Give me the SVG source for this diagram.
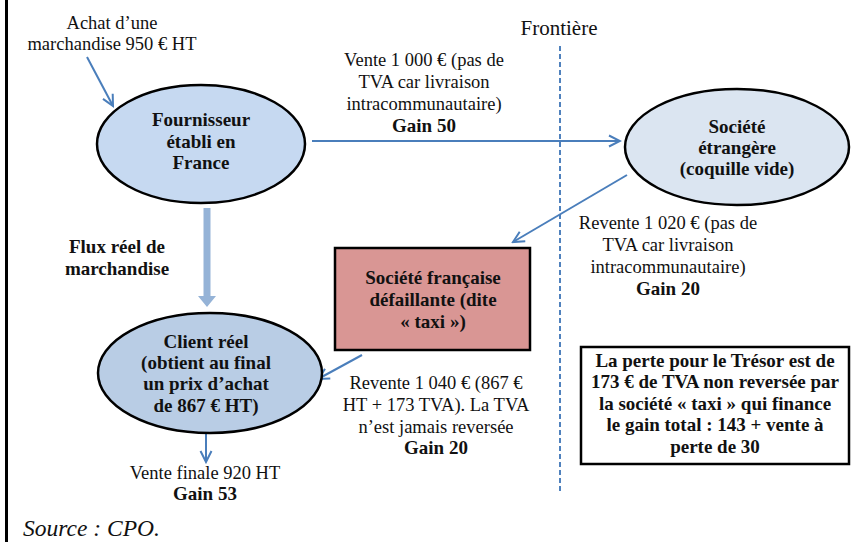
<svg xmlns="http://www.w3.org/2000/svg" width="856" height="542" viewBox="0 0 856 542">
<defs>
<style>
text{font-family:"Liberation Serif","Times New Roman",serif;fill:#111;text-anchor:middle}
.n{font-size:18.5px}
.b{font-size:19px;font-weight:bold}
.node{stroke:#000;stroke-width:2.5}
.conn{stroke:#4a7ebb;stroke-width:2;fill:none}
</style>
<marker id="ah" markerUnits="userSpaceOnUse" markerWidth="14" markerHeight="14" viewBox="0 0 14 14" refX="12" refY="7" orient="auto">
<path d="M1,1.5 L12,7 L1,12.5" fill="none" stroke="#4a7ebb" stroke-width="2"/>
</marker>
</defs>
<rect width="856" height="542" fill="#fff"/>
<line x1="6.5" y1="0" x2="6.5" y2="542" stroke="#000" stroke-width="3"/>

<g id="frontiere">
<line x1="560" y1="46" x2="560" y2="491" stroke="#4f81bd" stroke-width="2" stroke-dasharray="5,3"/>
<text x="559" y="35" style="font-size:21px">Frontière</text>
</g>

<g id="connectors">
<line class="conn" x1="87" y1="57" x2="113" y2="106" marker-end="url(#ah)"/>
<line class="conn" x1="312" y1="141" x2="620" y2="141" marker-end="url(#ah)"/>
<line class="conn" x1="627" y1="175" x2="513" y2="242" marker-end="url(#ah)"/>
<line class="conn" x1="362" y1="355" x2="318" y2="379" marker-end="url(#ah)"/>
<line class="conn" x1="206" y1="433" x2="206" y2="462" marker-end="url(#ah)"/>
<polygon points="203.5,208 210.5,208 210.5,296 216,296 207,307 198,296 203.5,296" fill="#95b3d7"/>
</g>

<g id="labels">
<text class="n" x="112" y="29">Achat d’une</text>
<text class="n" x="112" y="50">marchandise 950 € HT</text>
<text class="n" x="424" y="66">Vente 1 000 € (pas de</text>
<text class="n" x="424" y="88">TVA car livraison</text>
<text class="n" x="424" y="110">intracommunautaire)</text>
<text class="b" x="424" y="132">Gain 50</text>
<text class="n" x="668" y="229">Revente 1 020 € (pas de</text>
<text class="n" x="668" y="251">TVA car livraison</text>
<text class="n" x="668" y="273">intracommunautaire)</text>
<text class="b" x="668" y="295">Gain 20</text>
<text class="b" x="117" y="253">Flux réel de</text>
<text class="b" x="117" y="275">marchandise</text>
<text class="n" x="436" y="389">Revente 1 040 € (867 €</text>
<text class="n" x="436" y="411">HT + 173 TVA). La TVA</text>
<text class="n" x="436" y="433">n’est jamais reversée</text>
<text class="b" x="436" y="454">Gain 20</text>
<text class="n" x="205" y="479">Vente finale 920 HT</text>
<text class="b" x="205" y="500">Gain 53</text>
<text x="23" y="536" style="font-size:23.5px;font-style:italic;text-anchor:start">Source : CPO.</text>
</g>

<g id="fournisseur">
<ellipse class="node" cx="201" cy="144" rx="104" ry="59" fill="#c6d9f1"/>
<text class="b" x="201" y="126">Fournisseur</text>
<text class="b" x="201" y="148">établi en</text>
<text class="b" x="201" y="169">France</text>
</g>

<g id="societe-etrangere">
<ellipse class="node" cx="737" cy="147" rx="112" ry="58" fill="#dbe5f1"/>
<text class="b" x="737" y="133">Société</text>
<text class="b" x="737" y="154">étrangère</text>
<text class="b" x="737" y="175">(coquille vide)</text>
</g>

<g id="societe-taxi">
<rect class="node" x="335" y="248" width="195" height="102" fill="#d99694" stroke-width="3"/>
<text class="b" x="433" y="284">Société française</text>
<text class="b" x="433" y="306">défaillante (dite</text>
<text class="b" x="433" y="328">« taxi »)</text>
</g>

<g id="client-reel">
<ellipse class="node" cx="210" cy="373" rx="112" ry="60" fill="#b9cde5"/>
<text class="b" x="206" y="348">Client réel</text>
<text class="b" x="206" y="369">(obtient au final</text>
<text class="b" x="206" y="390">un prix d’achat</text>
<text class="b" x="206" y="412">de 867 € HT)</text>
</g>

<g id="perte-tresor">
<rect class="node" x="581" y="347" width="268" height="117" fill="#fff" stroke-width="3"/>
<text class="b" x="715" y="367">La perte pour le Trésor est de</text>
<text class="b" x="715" y="388">173 € de TVA non reversée par</text>
<text class="b" x="715" y="410">la société « taxi » qui finance</text>
<text class="b" x="715" y="431">le gain total : 143 + vente à</text>
<text class="b" x="715" y="453">perte de 30</text>
</g>
</svg>
